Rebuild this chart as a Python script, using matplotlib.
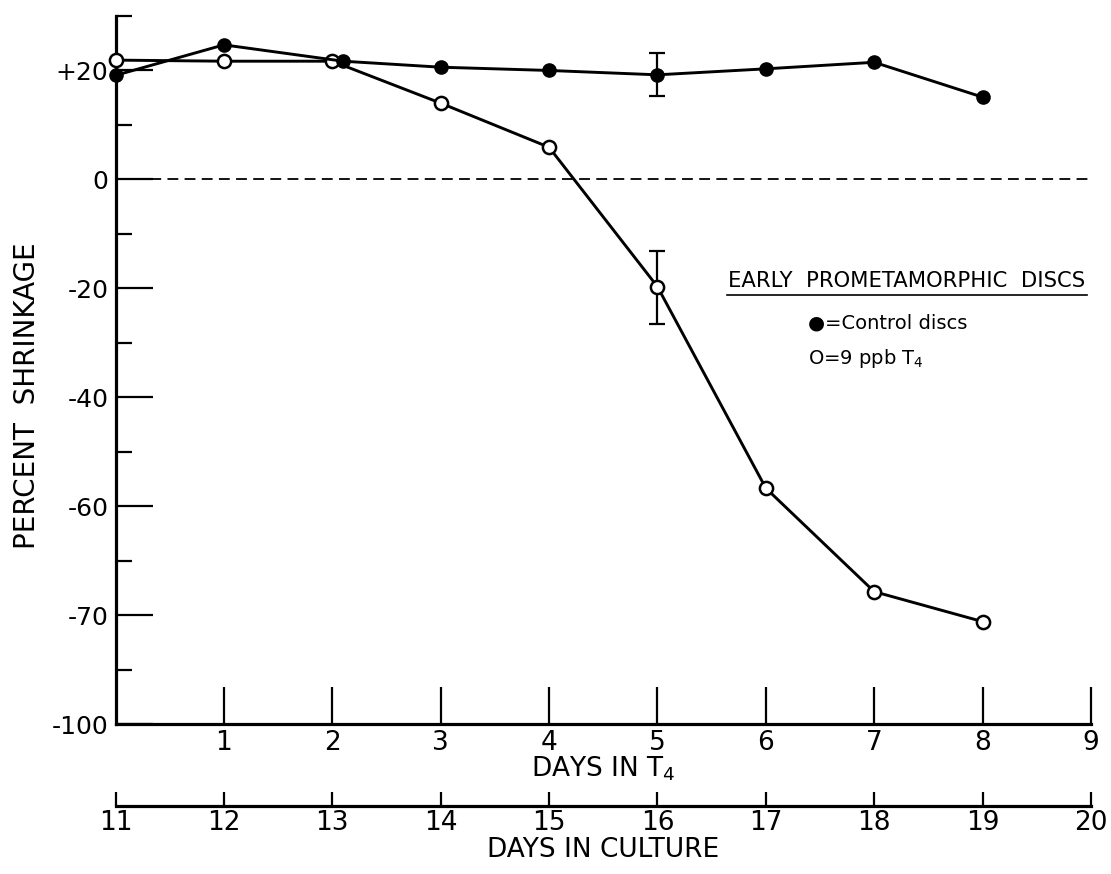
import matplotlib.pyplot as plt
from matplotlib.lines import Line2D

# x = days in T4 (days in culture = T4 day + 11)
t4_days = [0, 1, 2, 3, 4, 5, 6, 7, 8]
control_days = [0, 1, 2.1, 3, 4, 5, 6, 7, 8]
control_shrink = [19.1, 24.7, 21.7, 20.6, 20.0, 19.2, 20.3, 21.5, 15.1]
t4_shrink = [21.9, 21.7, 21.7, 14.0, 5.9, -19.7, -56.7, -75.7, -81.2]

# error bars (day, lower, upper)
control_err = (5, 3.9, 4.0)
t4_err = (5, 6.8, 6.6)

y_major = [20, 0, -20, -40, -60, -80, -100]
y_major_labels = ["+20", "0", "-20", "-40", "-60", "-70", "-100"]
y_minor = [30, 10, -10, -30, -50, -70, -90]
t4_ticks = [1, 2, 3, 4, 5, 6, 7, 8, 9]
culture_ticks = [11, 12, 13, 14, 15, 16, 17, 18, 19, 20]

W, H = 1111, 874


def fx(x):
    return x / W


def fy(y):
    return 1 - y / H


plt.rcParams["font.family"] = ["DejaVu Sans"]

fig = plt.figure(figsize=(W / 100, H / 100), dpi=100)
ax = fig.add_axes([fx(115.5), fy(724), fx(1091) - fx(115.5), fy(16) - fy(724)])

ax.set_xlim(0, 9)
ax.set_ylim(-100, 30)
for s in ("top", "right"):
    ax.spines[s].set_visible(False)
for s in ("left", "bottom"):
    ax.spines[s].set_linewidth(2.3)

# zero line
ax.axhline(0, color="black", lw=1.3, dashes=(6, 3.5), zorder=1)

# error bars
ax.errorbar([control_err[0]], [control_shrink[t4_days.index(control_err[0])]],
            yerr=[[control_err[1]], [control_err[2]]], fmt="none", ecolor="black",
            elinewidth=1.6, capsize=5.5, capthick=1.6, zorder=2)
ax.errorbar([t4_err[0]], [t4_shrink[t4_days.index(t4_err[0])]],
            yerr=[[t4_err[1]], [t4_err[2]]], fmt="none", ecolor="black",
            elinewidth=1.6, capsize=5.5, capthick=1.6, zorder=2)

ax.plot(control_days, control_shrink, color="black", lw=2.1, marker="o", ms=9.5,
        mfc="black", mec="black", clip_on=False, zorder=4)
ax.plot(t4_days, t4_shrink, color="black", lw=2.1, marker="o", ms=9.5,
        mfc="white", mec="black", mew=1.8, clip_on=False, zorder=3)

# y ticks
ax.set_yticks(y_major)
ax.set_yticklabels(y_major_labels)
ax.set_yticks(y_minor, minor=True)
ax.tick_params(axis="y", which="major", direction="in", length=26.5, width=1.6,
               labelsize=18, pad=5)
ax.tick_params(axis="y", which="minor", direction="in", length=11.5, width=1.6)

# days in T4 axis
ax.set_xticks(t4_ticks)
ax.set_xticklabels([str(d) for d in t4_ticks])
ax.tick_params(axis="x", which="major", direction="in", length=26.5, width=1.6,
               labelsize=19, pad=4)

# days in culture axis
sec = ax.secondary_xaxis((82) / -(724 - 16), functions=(lambda d: d + 11, lambda c: c - 11))
sec.set_xticks(culture_ticks)
sec.set_xticklabels([str(c) for c in culture_ticks])
sec.tick_params(axis="x", direction="in", length=10, width=1.6, labelsize=19, pad=3)
sec.spines["bottom"].set_linewidth(2.3)

fig.text(fx(603), fy(769), "DAYS IN T$_4$", ha="center", va="center", fontsize=19)
fig.text(fx(603), fy(850), "DAYS IN CULTURE", ha="center", va="center", fontsize=19)
fig.text(fx(27), fy(396), "PERCENT  SHRINKAGE", ha="center", va="center",
         rotation=90, fontsize=20)

# legend block
fig.text(fx(907), fy(281), "EARLY  PROMETAMORPHIC  DISCS", ha="center", va="center",
         fontsize=15.2)
fig.add_artist(Line2D([fx(727), fx(1087)], [fy(295), fy(295)], color="black", lw=1.2))
fig.text(fx(808), fy(323), "\u25cf=Control discs", ha="left", va="center", fontsize=14)
fig.text(fx(808), fy(358), "O=9 ppb T$_4$", ha="left", va="center", fontsize=14)

fig.savefig("out.png", dpi=100)
